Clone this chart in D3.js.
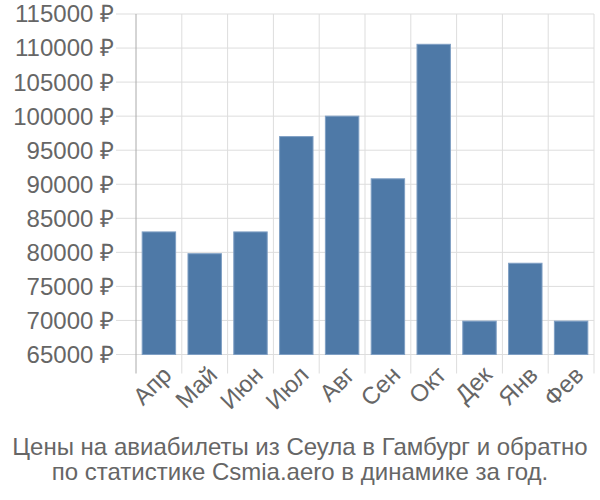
<!DOCTYPE html>
<html><head><meta charset="utf-8">
<script src="https://cdn.jsdelivr.net/npm/d3@7"></script>
<style>body{margin:0;background:#fff}</style>
</head><body><svg id="c" width="600" height="500"></svg>
<script>
const categories = ["Апр","Май","Июн","Июл","Авг","Сен","Окт","Дек","Янв","Фев"];
const values = [83000, 79800, 83000, 97000, 100000, 90800, 110550, 69900, 78400, 69900];
const yTicks = [65000,70000,75000,80000,85000,90000,95000,100000,105000,110000,115000];
const titleLines = ["Цены на авиабилеты из Сеула в Гамбург и обратно","по статистике Csmia.aero в динамике за год."];

const svg = d3.select("#c");
const L=136, R=594, T=14, B=354.5;
const x = d3.scaleBand().domain(categories).range([L,R]).padding(0);
const y = d3.scaleLinear().domain([65000,115000]).range([B,T]);
const font = "'Liberation Sans', Arial, sans-serif";

svg.append("g").selectAll("line").data(yTicks).join("line")
  .attr("x1",L-20).attr("x2",R).attr("y1",d=>y(d)).attr("y2",d=>y(d))
  .attr("stroke","#ddd").attr("stroke-width",1);
const bounds = categories.map(c=>x(c)).concat([R]);
svg.append("g").selectAll("line").data(bounds.slice(1)).join("line")
  .attr("x1",d=>d).attr("x2",d=>d).attr("y1",T).attr("y2",B+19)
  .attr("stroke","#ddd").attr("stroke-width",1);
svg.append("line").attr("x1",L).attr("x2",L).attr("y1",T).attr("y2",B+19)
  .attr("stroke","#aaa").attr("stroke-width",1);

const bw = x.bandwidth();
svg.append("g").selectAll("rect").data(values).join("rect")
  .attr("x",(d,i)=>x(categories[i])+bw*0.135)
  .attr("width",bw*0.73)
  .attr("y",d=>y(d)).attr("height",d=>B-y(d))
  .attr("fill","#4e79a7").attr("stroke","#7f9fc4").attr("stroke-width",1);

svg.append("g").selectAll("text").data(yTicks).join("text")
  .attr("x",L-22).attr("y",d=>y(d)).attr("dy","0.35em")
  .attr("text-anchor","end").attr("font-family",font).attr("font-size",24)
  .attr("fill","#666").text(d=>d+" ₽");

svg.append("g").selectAll("text").data(categories).join("text")
  .attr("transform",c=>`translate(${x(c)+bw/2+8},${B+16}) rotate(-45)`)
  .attr("text-anchor","end").attr("dy","0.35em").attr("font-family",font).attr("font-size",24)
  .attr("fill","#666").text(c=>c);

svg.append("g").selectAll("text").data(titleLines).join("text")
  .attr("x",300).attr("y",(d,i)=>455+i*25).attr("text-anchor","middle")
  .attr("font-family",font).attr("font-size",24).attr("fill","#666").text(d=>d);
</script></body></html>
